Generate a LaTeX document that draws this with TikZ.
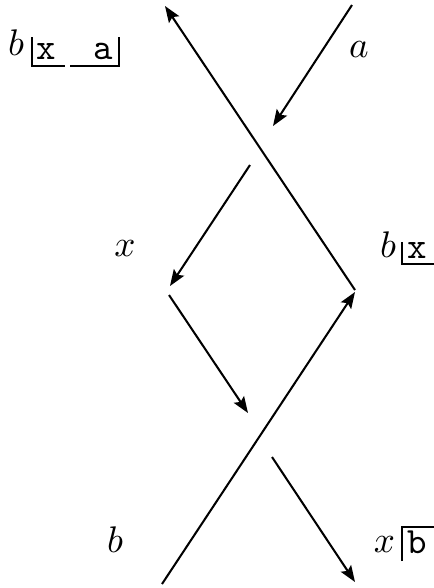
\documentclass[tikz,border=0pt]{standalone}
\usetikzlibrary{arrows.meta}
\begin{document}
\begin{tikzpicture}[x=0.27pt,y=-0.27pt,
  strand/.style={line width=0.55pt},
  arr/.style={strand,-{Stealth[length=4.4pt,width=3.3pt,inset=0.8pt]}},
  brk/.style={line width=0.65pt},
  lab/.style={anchor=base,inner sep=0pt}]
\useasboundingbox (0,0) rectangle (434,588);
% strand end points
\coordinate (p1) at (352,5);
\coordinate (p2) at (273,126);
\coordinate (q1) at (355,290);
\coordinate (q2) at (165,6);
\coordinate (r1) at (250,165);
\coordinate (r2) at (170,286);
\coordinate (s1) at (169,295);
\coordinate (s2) at (248,413);
\coordinate (t1) at (162,584);
\coordinate (t2) at (355,292);
\coordinate (u1) at (272,457);
\coordinate (u2) at (355,582);
% strands
\draw[arr] (p1) -- (p2);
\draw[arr] (q1) -- (q2);
\draw[arr] (r1) -- (r2);
\draw[arr] (s1) -- (s2);
\draw[arr] (t1) -- (t2);
\draw[arr] (u1) -- (u2);
% simple labels
\node[lab] (la) at (359,57) {$a$};
\node[lab] (lx) at (125,256) {$x$};
\node[lab] (lb) at (115,552) {$b$};
% top-left label
\node[lab] (tlb) at (16,55) {$b$};
\node[lab] (tlx) at (46.5,59) {\texttt{x}};
\node[lab] (tla) at (103.5,59) {\texttt{a}};
\draw[brk] (32,37) -- (32,66) -- (65,66);
\draw[brk] (70,66) -- (119,66) -- (119,37);
% right label
\node[lab] (rb) at (388,257) {$b$};
\node[lab] (rx) at (417.5,258) {\texttt{x}};
\draw[brk] (402,242) -- (402,264) -- (434,264);
% bottom-right label
\node[lab] (bx) at (384.5,552) {$x$};
\node[lab] (bb) at (417.5,553) {\texttt{b}};
\draw[brk] (402,561) -- (402,527) -- (434,527);
\end{tikzpicture}
\end{document}
